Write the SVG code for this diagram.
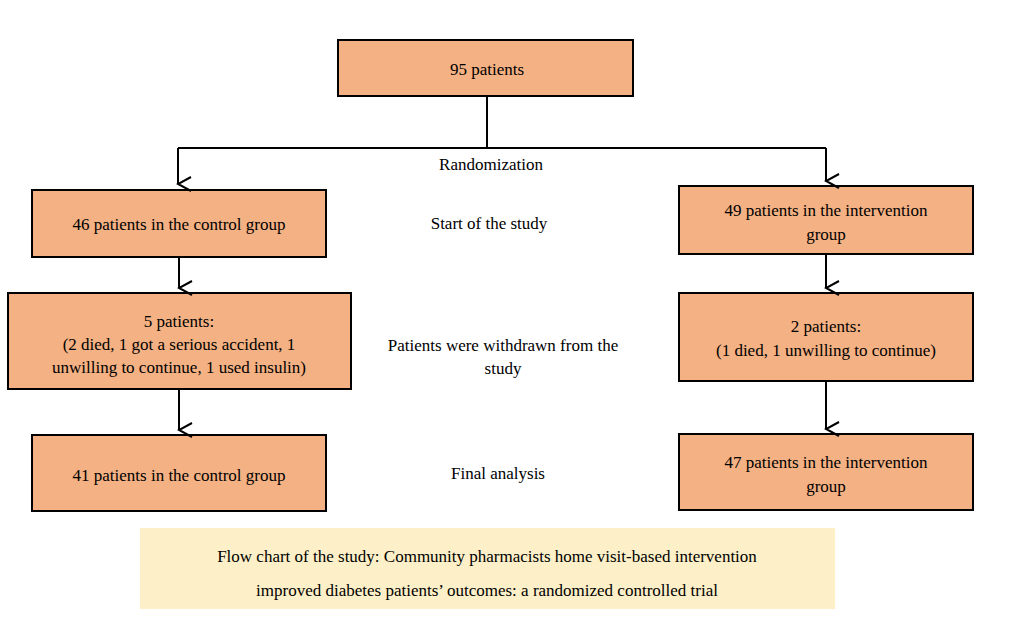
<svg xmlns="http://www.w3.org/2000/svg" width="1011" height="643" viewBox="0 0 1011 643">
<style>
.b{fill:#f4b183;stroke:#000;stroke-width:2}
text{font-family:"Liberation Serif",serif;font-size:17px;fill:#000;text-anchor:middle}
.c{stroke:#000;stroke-width:2;fill:none}
</style>
<defs><marker id="a" markerWidth="16" markerHeight="16" refX="8" refY="14" orient="auto" markerUnits="userSpaceOnUse"><path d="M1,1 L8,14 L15,1" fill="none" stroke="#000" stroke-width="2"/></marker></defs>
<rect width="1011" height="643" fill="#fff"/>
<g id="n0"><rect class="b" x="338" y="40" width="295" height="56"/><text x="487" y="75">95 patients</text></g>
<g id="n1"><rect class="b" x="32" y="190" width="294" height="67"/><text x="179" y="230">46 patients in the control group</text></g>
<g id="n2"><rect class="b" x="679" y="186" width="294" height="68"/><text x="826" y="216">49 patients in the intervention</text><text x="826" y="240">group</text></g>
<g id="n3"><rect class="b" x="8" y="293" width="343" height="96"/><text x="179" y="327">5 patients:</text><text x="179" y="350">(2 died, 1 got a serious accident, 1</text><text x="179" y="373">unwilling to continue, 1 used insulin)</text></g>
<g id="n4"><rect class="b" x="679" y="293" width="294" height="88"/><text x="826" y="332">2 patients:</text><text x="826" y="356">(1 died, 1 unwilling to continue)</text></g>
<g id="n5"><rect class="b" x="32" y="435" width="294" height="76"/><text x="179" y="481">41 patients in the control group</text></g>
<g id="n6"><rect class="b" x="679" y="434" width="294" height="76"/><text x="826" y="468">47 patients in the intervention</text><text x="826" y="492">group</text></g>
<g id="labels">
<text x="491" y="170">Randomization</text>
<text x="489" y="229">Start of the study</text>
<text x="503" y="351">Patients were withdrawn from the</text>
<text x="503" y="374">study</text>
<text x="498" y="479">Final analysis</text>
</g>
<g id="caption"><rect x="140" y="528" width="695" height="81" fill="#fdf0c8"/><text x="487" y="562">Flow chart of the study: Community pharmacists home visit-based intervention</text><text x="487" y="596">improved diabetes patients’ outcomes: a randomized controlled trial</text></g>
<g id="connectors">
<path class="c" d="M487,96 V148 M178,148 H826"/>
<path class="c" d="M178,148 V184" marker-end="url(#a)"/>
<path class="c" d="M826,148 V181" marker-end="url(#a)"/>
<path class="c" d="M179,257 V288" marker-end="url(#a)"/>
<path class="c" d="M826,254 V288" marker-end="url(#a)"/>
<path class="c" d="M179,389 V430" marker-end="url(#a)"/>
<path class="c" d="M826,381 V429" marker-end="url(#a)"/>
</g>
</svg>
